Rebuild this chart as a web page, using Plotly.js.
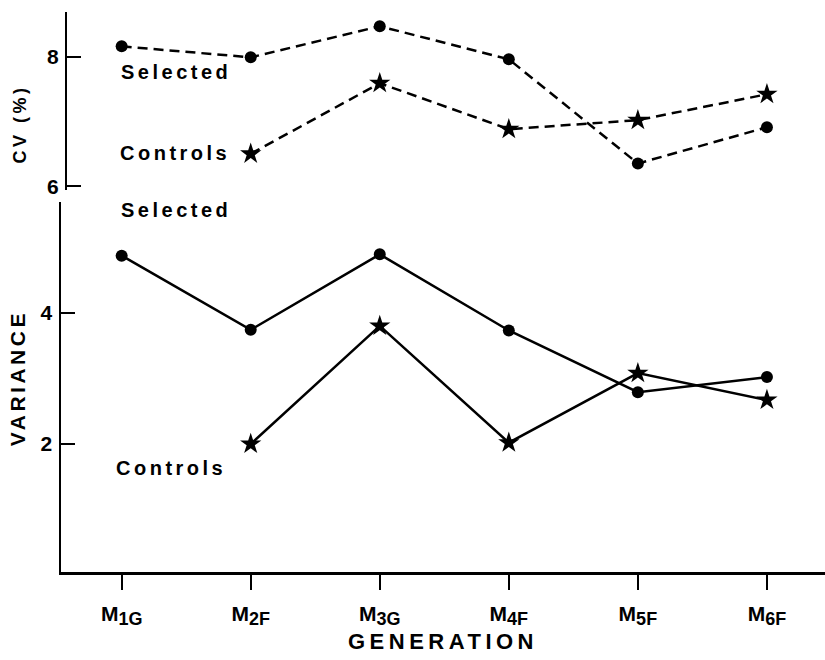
<!DOCTYPE html>
<html>
<head>
<meta charset="utf-8">
<script src="https://cdn.plot.ly/plotly-3.0.1.min.js"></script>
<style>
html,body{margin:0;padding:0;background:#fff}
#chart{width:825px;height:660px}
#chart .annotation-text{letter-spacing:3.5px}
#chart .xtitle{letter-spacing:4.5px}
</style>
</head>
<body>
<div id="chart"></div>
<script>
var generations = ["M1G", "M2F", "M3G", "M4F", "M5F", "M6F"];
var tickLabels = [
  "M<sub><span style='font-size:18px'>1G</span></sub>",
  "M<sub><span style='font-size:18px'>2F</span></sub>",
  "M<sub><span style='font-size:18px'>3G</span></sub>",
  "M<sub><span style='font-size:18px'>4F</span></sub>",
  "M<sub><span style='font-size:18px'>5F</span></sub>",
  "M<sub><span style='font-size:18px'>6F</span></sub>"
];
var cvSelected = [8.16, 7.99, 8.47, 7.96, 6.35, 6.91];
var cvControls = [null, 6.50, 7.59, 6.88, 7.02, 7.42];
var varSelected = [4.87, 3.74, 4.89, 3.73, 2.79, 3.02];
var varControls = [null, 2.00, 3.80, 2.02, 3.08, 2.67];

var FONT = "Liberation Sans, Arial, sans-serif";
var dash = "10px,6px";

var traces = [
  {x: generations, y: cvSelected, xaxis: "x", yaxis: "y2", mode: "lines+markers",
   line: {color: "#000", width: 2.5, dash: dash}, marker: {symbol: "circle", size: 12, color: "#000"},
   name: "CV Selected", showlegend: false},
  {x: generations, y: cvControls, xaxis: "x", yaxis: "y2", mode: "lines+markers",
   line: {color: "#000", width: 2.5, dash: dash}, marker: {symbol: "star", size: 16, color: "#000"},
   name: "CV Controls", showlegend: false},
  {x: generations, y: varSelected, xaxis: "x", yaxis: "y", mode: "lines+markers",
   line: {color: "#000", width: 2.5}, marker: {symbol: "circle", size: 12, color: "#000"},
   name: "Variance Selected", showlegend: false},
  {x: generations, y: varControls, xaxis: "x", yaxis: "y", mode: "lines+markers",
   line: {color: "#000", width: 2.5}, marker: {symbol: "star", size: 16, color: "#000"},
   name: "Variance Controls", showlegend: false}
];

var tickFont = {family: FONT, size: 21, color: "#000", weight: "bold"};
var labFont = {family: FONT, size: 20, color: "#000", weight: "bold"};
var layout = {
  width: 825, height: 660,
  margin: {l: 61, r: 0, t: 12, b: 88},
  paper_bgcolor: "#fff", plot_bgcolor: "#fff",
  font: {family: FONT, color: "#000"},
  xaxis: {
    type: "category", range: [-0.47, 5.45],
    tickvals: generations, ticktext: tickLabels,
    showline: true, linecolor: "#000", linewidth: 2.5,
    ticks: "outside", ticklen: 15, tickwidth: 2, tickcolor: "#000",
    showgrid: false, zeroline: false,
    tickfont: tickFont, ticklabelstandoff: 6,
    title: {text: "GENERATION", font: {family: FONT, size: 22, color: "#000", weight: "bold"}, standoff: 3},
    anchor: "y"
  },
  yaxis: {
    domain: [0, 0.661], range: [0.05, 5.69],
    tickvals: [2, 4], ticktext: ["2", "4"],
    showline: true, linecolor: "#000", linewidth: 2.5,
    ticks: "inside", ticklen: 14, tickwidth: 2, tickcolor: "#000",
    showgrid: false, zeroline: false,
    tickfont: tickFont, ticklabelstandoff: 2,
    anchor: "x"
  },
  yaxis2: {
    domain: [0.682, 1], range: [5.94, 8.69],
    tickvals: [6, 8], ticktext: ["6", "8"],
    showline: true, linecolor: "#000", linewidth: 2.5,
    ticks: "inside", ticklen: 14, tickwidth: 2, tickcolor: "#000",
    showgrid: false, zeroline: false,
    tickfont: tickFont, ticklabelstandoff: 2,
    anchor: "free", position: 0.0065
  },
  annotations: [
    {text: "CV (%)", xref: "paper", yref: "paper", x: -0.0537, y: 0.8, textangle: -90,
     xanchor: "center", yanchor: "middle", showarrow: false,
     font: {family: FONT, size: 18, color: "#000", weight: "bold"}},
    {text: "VARIANCE", xref: "paper", yref: "paper", x: -0.0576, y: 0.346, textangle: -90,
     xanchor: "center", yanchor: "middle", showarrow: false,
     font: {family: FONT, size: 21, color: "#000", weight: "bold"}},
    {text: "Selected", xref: "x", yref: "y2", x: 0.09, y: 7.76, xanchor: "left", yanchor: "middle", showarrow: false,
     font: labFont},
    {text: "Controls", xref: "x", yref: "y2", x: 0.08, y: 6.51, xanchor: "left", yanchor: "middle", showarrow: false,
     font: labFont},
    {text: "Selected", xref: "x", yref: "y", x: 0.09, y: 5.57, xanchor: "left", yanchor: "middle", showarrow: false,
     font: labFont},
    {text: "Controls", xref: "x", yref: "y", x: 0.05, y: 1.63, xanchor: "left", yanchor: "middle", showarrow: false,
     font: labFont}
  ]
};

Plotly.newPlot("chart", traces, layout, {displayModeBar: false, staticPlot: true});
</script>
</body>
</html>
